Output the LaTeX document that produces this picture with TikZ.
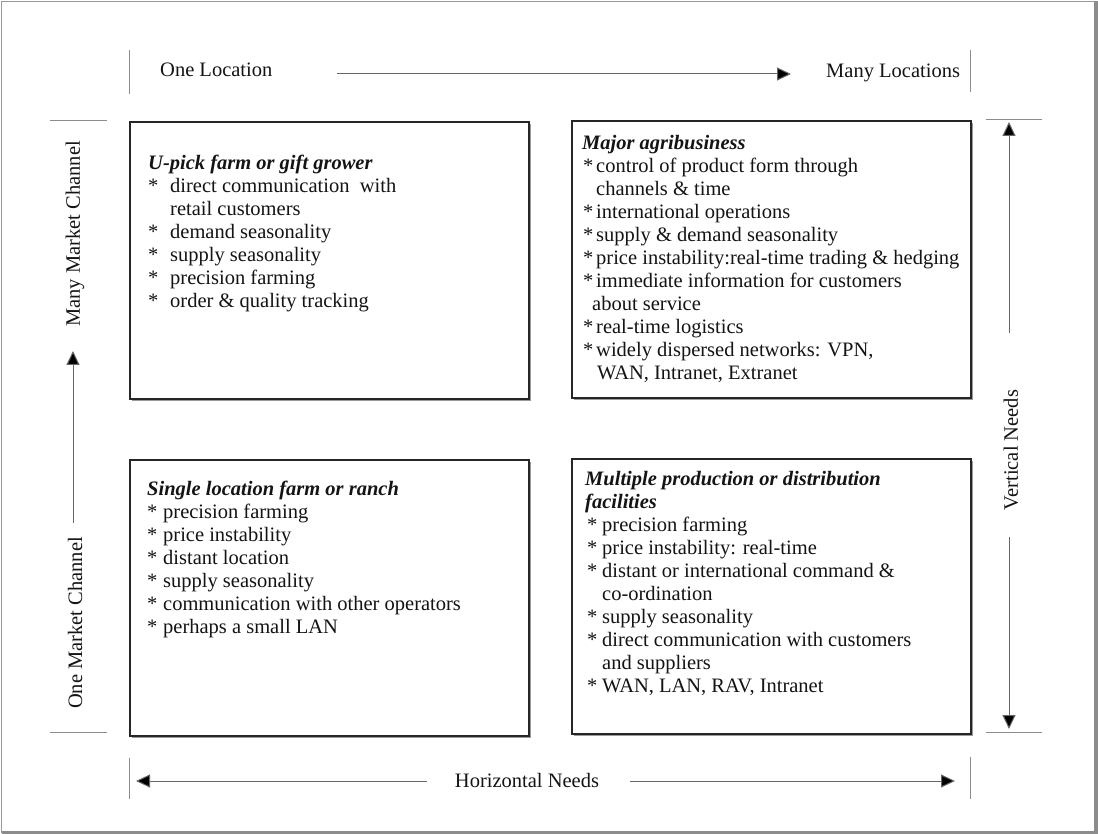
\documentclass[tikz,border=0pt]{standalone}
\usepackage{fontspec}
\setmainfont{Liberation Serif}
\usetikzlibrary{arrows.meta,shadows}
\newcommand{\qb}[1]{\makebox[#1][l]{*}}
\newcommand{\qtitle}[1]{\textbf{\textit{#1}}}
\begin{document}
\begin{tikzpicture}[x=1pt,y=-1pt,
  qbox/.style={draw=black!85,line width=1.8pt,fill=white,anchor=north west,inner sep=0pt,
    drop shadow={shadow xshift=2.2pt,shadow yshift=-2.2pt,fill=black!40,opacity=1}},
  qtext/.style={anchor=base west,inner sep=0pt,font=\fontsize{20.5}{23}\selectfont,text=black!92},
  qlabel/.style={inner sep=0pt,font=\fontsize{20.5}{23}\selectfont,text=black!92},
  tick/.style={draw=black!45,line width=1pt},
  shaft/.style={draw=black!60,line width=1pt},
  qarrow/.style={shaft,-{Triangle[length=14pt,width=13pt,fill=black]}},
  every node/.style={}]
\useasboundingbox (0,0) rectangle (1098,834);
% outer frame
\draw[draw=black!40,line width=1.5pt] (1.5,1.5) rectangle (1095,832);
\fill[black!45] (1094,1.5) rectangle (1098,834);
\fill[black!45] (1.5,831) rectangle (1098,834);

% boxes
\node[qbox,minimum width=399pt,minimum height=277pt] (boxTL) at (129,121) {};
\node[qbox,minimum width=399pt,minimum height=277pt] (boxTR) at (571,120) {};
\node[qbox,minimum width=399pt,minimum height=276pt] (boxBL) at (129,459) {};
\node[qbox,minimum width=399pt,minimum height=275pt] (boxBR) at (571,458) {};

% box texts
\node[qtext] (tTL) at (148,170) {\parbox[t]{370pt}{\raggedright\parindent0pt
\qtitle{U-pick farm or gift grower}\\
\qb{22pt}direct communication\ \ with\\
\hspace*{22pt}retail customers\\
\qb{22pt}demand seasonality\\
\qb{22pt}supply seasonality\\
\qb{22pt}precision farming\\
\qb{22pt}order \& quality tracking}};

\node[qtext] (tTR) at (582,150) {\parbox[t]{390pt}{\raggedright\parindent0pt
\qtitle{Major agribusiness}\\
\hspace*{1pt}\qb{13pt}control of product form through\\
\hspace*{14pt}channels \& time\\
\hspace*{1pt}\qb{13pt}international operations\\
\hspace*{1pt}\qb{13pt}supply \& demand seasonality\\
\hspace*{1pt}\qb{13pt}price instability:real-time trading \& hedging\\
\hspace*{1pt}\qb{13pt}immediate information for customers\\
\hspace*{10pt}about service\\
\hspace*{1pt}\qb{13pt}real-time logistics\\
\hspace*{1pt}\qb{13pt}widely dispersed networks: VPN,\\
\hspace*{15pt}WAN, Intranet, Extranet}};

\node[qtext] (tBL) at (147,495) {\parbox[t]{370pt}{\raggedright\parindent0pt
\qtitle{Single location farm or ranch}\\
\qb{16pt}precision farming\\
\qb{16pt}price instability\\
\qb{16pt}distant location\\
\qb{16pt}supply seasonality\\
\qb{16pt}communication with other operators\\
\qb{16pt}perhaps a small LAN}};

\node[qtext] (tBR) at (585,485) {\parbox[t]{380pt}{\raggedright\parindent0pt
\qtitle{Multiple production or distribution}\\
\qtitle{facilities}\\
\hspace*{2pt}\qb{15pt}precision farming\\
\hspace*{2pt}\qb{15pt}price instability: real-time\\
\hspace*{2pt}\qb{15pt}distant or international command \&\\
\hspace*{17pt}co-ordination\\
\hspace*{2pt}\qb{15pt}supply seasonality\\
\hspace*{2pt}\qb{15pt}direct communication with customers\\
\hspace*{17pt}and suppliers\\
\hspace*{2pt}\qb{15pt}WAN, LAN, RAV, Intranet}};

% top axis
\coordinate (tTickLa) at (129,50); \coordinate (tTickLb) at (129,94);
\coordinate (tTickRa) at (970,50); \coordinate (tTickRb) at (970,92);
\draw[tick] (tTickLa) -- (tTickLb);
\draw[tick] (tTickRa) -- (tTickRb);
\node[qtext] (oneLoc) at (160,77) {One Location};
\node[qtext] (manyLoc) at (826,78) {Many Locations};
\coordinate (topA) at (337,74); \coordinate (topB) at (791,74);
\draw[qarrow] (topA) -- (topB);

% bottom axis
\coordinate (bTickLa) at (129,758); \coordinate (bTickLb) at (129,799);
\coordinate (bTickRa) at (970,757); \coordinate (bTickRb) at (970,799);
\draw[tick] (bTickLa) -- (bTickLb);
\draw[tick] (bTickRa) -- (bTickRb);
\node[qlabel] (hNeeds) at (527,780) {Horizontal Needs};
\coordinate (bLa) at (427,781); \coordinate (bLb) at (136,781);
\coordinate (bRa) at (630,781); \coordinate (bRb) at (955,781);
\draw[qarrow] (bLa) -- (bLb);
\draw[qarrow] (bRa) -- (bRb);

% left axis
\coordinate (lTopA) at (50,121); \coordinate (lTopB) at (107,121);
\coordinate (lBotA) at (50,732); \coordinate (lBotB) at (107,732);
\draw[tick] (lTopA) -- (lTopB);
\draw[tick] (lBotA) -- (lBotB);
\node[qlabel,rotate=90] (manyMC) at (75,234) {Many Market Channel};
\node[qlabel,rotate=90] (oneMC) at (75,623) {One Market Channel};
\coordinate (lA) at (73,523); \coordinate (lB) at (73,351);
\draw[qarrow] (lA) -- (lB);

% right axis
\coordinate (rTopA) at (986,120); \coordinate (rTopB) at (1042,120);
\coordinate (rBotA) at (986,732); \coordinate (rBotB) at (1042,732);
\draw[tick] (rTopA) -- (rTopB);
\draw[tick] (rBotA) -- (rBotB);
\node[qlabel,rotate=90] (vNeeds) at (1011,450) {Vertical Needs};
\coordinate (rUa) at (1009,333); \coordinate (rUb) at (1009,122);
\coordinate (rDa) at (1009,537); \coordinate (rDb) at (1009,729);
\draw[qarrow] (rUa) -- (rUb);
\draw[qarrow] (rDa) -- (rDb);
\end{tikzpicture}
\end{document}
